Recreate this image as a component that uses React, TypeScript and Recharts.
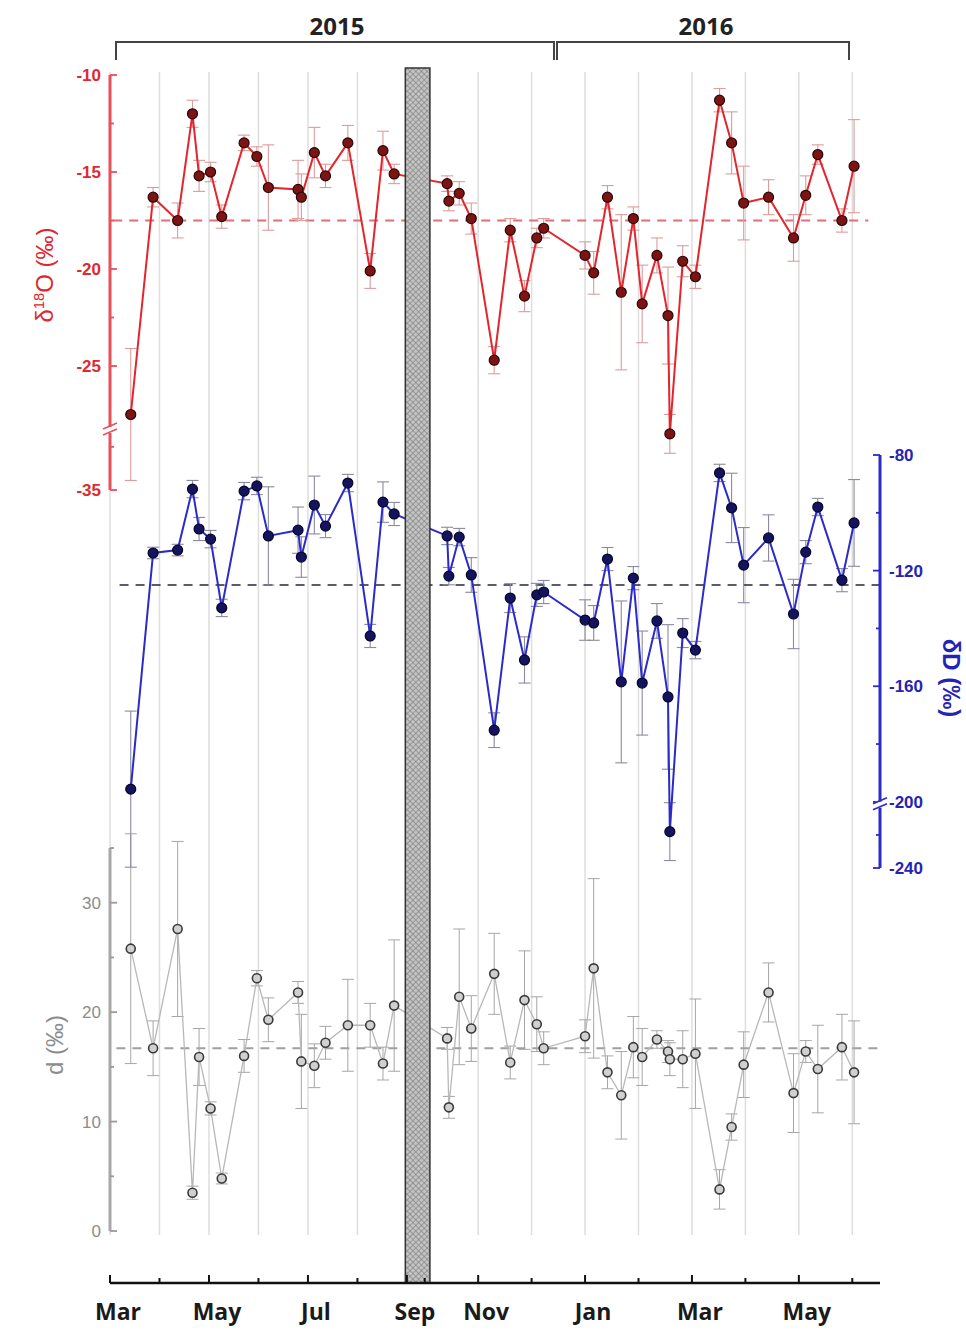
import React from 'react';
import { ComposedChart, Line, XAxis, YAxis, ErrorBar, ReferenceLine, ReferenceArea } from 'recharts';

// sampling dates (event-based precipitation samples)
const sampleDates = [
  '2015-03-14', '2015-03-28', '2015-04-12', '2015-04-21', '2015-04-25', '2015-05-02', '2015-05-09',
  '2015-05-23', '2015-05-31', '2015-06-07', '2015-06-25', '2015-06-27', '2015-07-05', '2015-07-12',
  '2015-07-26', '2015-08-09', '2015-08-17', '2015-08-24', '2015-10-14', '2015-10-15', '2015-10-21',
  '2015-10-28', '2015-11-10', '2015-11-19', '2015-11-27', '2015-12-04', '2015-12-08', '2016-01-01',
  '2016-01-06', '2016-01-14', '2016-01-22', '2016-01-29', '2016-02-03', '2016-02-11', '2016-02-17',
  '2016-02-18', '2016-02-25', '2016-03-03', '2016-03-17', '2016-03-24', '2016-03-31', '2016-04-14',
  '2016-04-28', '2016-05-05', '2016-05-12', '2016-05-26', '2016-06-02',
];

const d18O = [
  -27.5, -16.3, -17.5, -12.0, -15.2, -15.0, -17.3, -13.5, -14.2, -15.8, -15.9, -16.3, -14.0, -15.2,
  -13.5, -20.1, -13.9, -15.1, -15.6, -16.5, -16.1, -17.4, -24.7, -18.0, -21.4, -18.4, -17.9, -19.3,
  -20.2, -16.3, -21.2, -17.4, -21.8, -19.3, -22.4, -28.5, -19.6, -20.4, -11.3, -13.5, -16.6, -16.3,
  -18.4, -16.2, -14.1, -17.5, -14.7,
];
const d18OErr = [
  3.4, 0.5, 0.9, 0.7, 0.8, 0.5, 0.6, 0.4, 0.5, 2.2, 1.5, 1.2, 1.3, 0.6, 0.9, 0.9, 1.0, 0.5, 0.4, 0.5,
  0.6, 0.8, 0.7, 0.6, 0.8, 0.5, 0.5, 0.7, 1.1, 0.6, 4.0, 0.6, 2.0, 0.9, 2.5, 1.0, 0.8, 0.6, 0.6, 1.6,
  1.9, 0.9, 1.2, 1.0, 0.5, 0.6, 2.4,
];

const dD = [
  -195.6, -113.9, -112.9, -91.8, -105.6, -109.1, -132.9, -92.5, -90.7, -108.0, -106.0, -115.3, -97.3,
  -104.6, -89.7, -142.6, -96.3, -100.4, -108.0, -121.9, -108.4, -121.5, -175.2, -129.5, -150.9, -128.4,
  -127.4, -137.1, -138.1, -116.0, -158.5, -122.6, -158.9, -137.4, -163.7, -218.0, -141.6, -147.5, -86.2,
  -98.3, -118.1, -108.7, -135.0, -113.6, -98.0, -123.3, -103.5,
];
const dDErr = [
  27, 2, 2, 3, 4, 3, 3, 3, 3, 17, 8, 7, 10, 4, 3, 4, 7, 4, 3, 3, 3, 6, 6, 5, 8, 4, 4, 7, 6, 4, 28, 4,
  18, 6, 25, 10, 5, 3, 3, 12, 13, 8, 12, 4, 3, 4, 15,
];

const dExcess = [
  25.8, 16.7, 27.6, 3.5, 15.9, 11.2, 4.8, 16.0, 23.1, 19.3, 21.8, 15.5, 15.1, 17.2, 18.8, 18.8, 15.3,
  20.6, 17.6, 11.3, 21.4, 18.5, 23.5, 15.4, 21.1, 18.9, 16.7, 17.8, 24.0, 14.5, 12.4, 16.8, 15.9, 17.5,
  16.4, 15.7, 15.7, 16.2, 3.8, 9.5, 15.2, 21.8, 12.6, 16.4, 14.8, 16.8, 14.5,
];
const dExcessErr = [
  10.5, 2.5, 8.0, 0.6, 2.6, 0.6, 0.5, 1.5, 0.7, 2.0, 1.0, 4.3, 2.0, 1.5, 4.2, 2.0, 1.5, 6.0, 1.0, 1.0,
  6.2, 3.0, 3.7, 1.5, 4.5, 2.5, 1.5, 1.5, 8.2, 1.5, 4.0, 2.8, 2.6, 0.8, 1.0, 1.5, 2.6, 5.0, 1.8, 1.2,
  3.0, 2.7, 3.6, 1.0, 4.0, 3.0, 4.7,
];

const d18OMean = -17.5;
const dDMean = -125;
const dExcessMean = 16.7;

const monthStarts = [
  '2015-03-01', '2015-04-01', '2015-05-01', '2015-06-01', '2015-07-01', '2015-08-01', '2015-09-01',
  '2015-10-01', '2015-11-01', '2015-12-01', '2016-01-01', '2016-02-01', '2016-03-01', '2016-04-01',
  '2016-05-01', '2016-06-01',
];
const monthNames = ['Mar', '', 'May', '', 'Jul', '', 'Sep', '', 'Nov', '', 'Jan', '', 'Mar', '', 'May', ''];

const d18OTicks = [-10, -15, -20, -25, -35];
const d18OMinor = [-12.5, -17.5, -22.5, -30];
const dDTicks = [-80, -120, -160, -200, -240];
const dDMinor = [-100, -140, -180, -220];
const dExcessTicks = [0, 10, 20, 30];
const dExcessMinor = [5, 15, 25, 35];

// ---- layout ----
const W = 966;
const H = 1333;
const LEFT = 110;
const RIGHT = 880;
const X_MAX = 15.56;
const RED = '#e3262d';
const BLUE = '#2b2bc9';
const GREY = '#9a9a9a';

// time axis is broken in Sep 2015 (hatched bar), months after it are a bit wider
const xPos = (s: string) => {
  const [y, m, d] = s.split('-').map(Number);
  const idx = (y - 2015) * 12 + (m - 3);
  const frac = (d - 1) / new Date(y, m, 0).getDate();
  if (idx < 6) return idx + frac;
  if (idx === 6) return 6 + frac * 0.36;
  return 6.36 + (idx - 7 + frac) * 1.08;
};

// y axis breaks
const foldO = (v: number) => (v >= -28.5 ? v : -28.5 + (v + 28.5) * 0.445);
const foldD = (v: number) => (v >= -200 ? v : -200 + (v + 200) * 0.572);

const rows = sampleDates.map((s, i) => ({
  x: xPos(s),
  o18: foldO(d18O[i]),
  o18Err: d18OErr[i],
  dD: foldD(dD[i]),
  dDErr: dDErr[i],
  d: dExcess[i],
  dErr: dExcessErr[i],
}));

type AxisStyle = {
  side: 'left' | 'right';
  color: string;
  tickColor: string;
  majors: { pos: number; label: string }[];
  brk?: number;
  fontSize: number;
  fontWeight: number;
};

const yTick = (st: AxisStyle) => (props: any) => {
  const { x, y, payload } = props;
  const v = payload.value as number;
  const dir = st.side === 'left' ? 1 : -1;
  if (st.brk !== undefined && Math.abs(v - st.brk) < 1e-6) {
    return (
      <g>
        <rect x={x - 5} y={y - 3} width={10} height={6} fill="#fff" />
        <line x1={x - 7} y1={y - 1} x2={x + 7} y2={y - 7} stroke={st.tickColor} strokeWidth={1.6} />
        <line x1={x - 7} y1={y + 5} x2={x + 7} y2={y - 1} stroke={st.tickColor} strokeWidth={1.6} />
      </g>
    );
  }
  const major = st.majors.find((m) => Math.abs(m.pos - v) < 1e-6);
  const len = major ? 7 : 4;
  return (
    <g>
      <line x1={x} y1={y} x2={x + dir * len} y2={y} stroke={st.tickColor} strokeWidth={1.8} />
      {major && (
        <text
          x={x - dir * 9}
          y={y}
          dy="0.35em"
          textAnchor={st.side === 'left' ? 'end' : 'start'}
          fill={st.color}
          fontSize={st.fontSize}
          fontWeight={st.fontWeight}
          fontFamily="'Liberation Sans', Arial, sans-serif"
        >
          {major.label}
        </text>
      )}
    </g>
  );
};

const O_BREAK = -28.3;
const D_BREAK = -201;

const o18Tick = yTick({
  side: 'left', color: '#dd2a30', tickColor: '#e8505a', fontSize: 17, fontWeight: 700, brk: O_BREAK,
  majors: d18OTicks.map((t) => ({ pos: foldO(t), label: String(t) })),
});
const dDTick = yTick({
  side: 'right', color: '#2424b4', tickColor: BLUE, fontSize: 17, fontWeight: 700, brk: D_BREAK,
  majors: dDTicks.map((t) => ({ pos: foldD(t), label: String(t) })),
});
const dTick = yTick({
  side: 'left', color: '#8c8c8c', tickColor: GREY, fontSize: 17, fontWeight: 400,
  majors: dExcessTicks.map((t) => ({ pos: t, label: String(t) })),
});

const xTickPos = monthStarts.map(xPos);
const XTick = (props: any) => {
  const { x, y, payload } = props;
  const i = xTickPos.findIndex((p) => Math.abs(p - payload.value) < 1e-6);
  const name = monthNames[i] || '';
  return (
    <g>
      <line x1={x} y1={y} x2={x} y2={y - (name ? 8 : 5)} stroke="#111" strokeWidth={2} />
      {name && (
        <text x={x + 8} y={y + 37} textAnchor="middle" fontSize={23} fontWeight={700} fill="#1a1a1a"
          fontFamily="'Open Sans', sans-serif">
          {name}
        </text>
      )}
    </g>
  );
};

const layer: React.CSSProperties = { position: 'absolute', left: 0, top: 0 };
const xAxisHidden = <XAxis type="number" dataKey="x" domain={[0, X_MAX]} allowDataOverflow hide />;

const Bracket = ({ left, width, label, cx }: { left: number; width: number; label: string; cx: number }) => (
  <>
    <div style={{
      position: 'absolute', left, top: 41, width, height: 19, boxSizing: 'border-box',
      borderTop: '2px solid #444', borderLeft: '2px solid #444', borderRight: '2px solid #444',
    }} />
    <div style={{
      position: 'absolute', left: cx, top: 25, transform: 'translate(-50%, -50%)',
      fontFamily: "'Open Sans', sans-serif", fontWeight: 700, fontSize: 24, color: '#222',
    }}>{label}</div>
  </>
);

const Title = ({ cx, cy, rot, color, bold, children }: any) => (
  <div style={{
    position: 'absolute', left: cx, top: cy, transform: `translate(-50%, -50%) rotate(${rot}deg)`,
    whiteSpace: 'nowrap', color, fontSize: 24, fontWeight: bold ? 700 : 400,
    fontFamily: "'Liberation Sans', Arial, sans-serif",
  }}>{children}</div>
);

export default function App() {
  return (
    <div style={{ position: 'absolute', left: 0, top: 0, width: W, height: H, background: '#fff' }}>
      {/* month grid */}
      <div style={layer}>
        <ComposedChart width={W} height={H} data={rows} margin={{ top: 72, right: W - RIGHT, bottom: H - 1235, left: LEFT }}>
          {xAxisHidden}
          <YAxis type="number" domain={[0, 1]} allowDataOverflow hide />
          {monthStarts.map((m) => (
            <ReferenceLine key={m} x={xPos(m)} stroke="#dedede" strokeWidth={1.5} />
          ))}
        </ComposedChart>
      </div>

      {/* d-excess */}
      <div style={layer}>
        <ComposedChart width={W} height={H} data={rows} margin={{ top: 848, right: W - RIGHT, bottom: H - 1231, left: LEFT - 40 }}>
          {xAxisHidden}
          <YAxis type="number" domain={[0, 35]} allowDataOverflow width={40} interval={0}
            ticks={[...dExcessTicks, ...dExcessMinor]} tickSize={0} tickMargin={0} tickLine={false}
            axisLine={{ stroke: '#a8a8a8', strokeWidth: 3 }} tick={dTick} />
          <ReferenceLine segment={[{ x: xPos('2015-03-05'), y: dExcessMean }, { x: X_MAX, y: dExcessMean }]}
            stroke="#a0a0a0" strokeDasharray="9 7" strokeWidth={1.8} />
          <Line dataKey="d" type="linear" stroke="#b8b8b8" strokeWidth={1.3} isAnimationActive={false}
            dot={{ r: 4.5, fill: '#d0d0d0', stroke: '#3a3a3a', strokeWidth: 1.6 }} activeDot={false}>
            <ErrorBar dataKey="dErr" width={6} stroke="#a6a6a6" strokeWidth={1} direction="y" />
          </Line>
        </ComposedChart>
      </div>

      {/* deltaD */}
      <div style={layer}>
        <ComposedChart width={W} height={H} data={rows} margin={{ top: 455, right: W - RIGHT - 40, bottom: H - 868, left: LEFT }}>
          {xAxisHidden}
          <YAxis type="number" orientation="right" domain={[foldD(-240), -80]} allowDataOverflow width={40} interval={0}
            ticks={[...dDTicks.map(foldD), ...dDMinor.map(foldD), D_BREAK]} tickSize={0} tickMargin={0} tickLine={false}
            axisLine={{ stroke: BLUE, strokeWidth: 3 }} tick={dDTick} />
          <ReferenceLine segment={[{ x: xPos('2015-03-07'), y: dDMean }, { x: X_MAX, y: dDMean }]}
            stroke="#23234a" strokeDasharray="9 7" strokeWidth={1.6} />
          <Line dataKey="dD" type="linear" stroke={BLUE} strokeWidth={2} isAnimationActive={false}
            dot={{ r: 5, fill: '#14145e', stroke: '#06062a', strokeWidth: 1.2 }} activeDot={false}>
            <ErrorBar dataKey="dDErr" width={6} stroke="#8a8aa2" strokeWidth={1.1} direction="y" />
          </Line>
        </ComposedChart>
      </div>

      {/* delta18O */}
      <div style={layer}>
        <ComposedChart width={W} height={H} data={rows} margin={{ top: 75, right: W - RIGHT, bottom: H - 490, left: LEFT - 40 }}>
          {xAxisHidden}
          <YAxis type="number" domain={[foldO(-35), -10]} allowDataOverflow width={40} interval={0}
            ticks={[...d18OTicks.map(foldO), ...d18OMinor.map(foldO), O_BREAK]} tickSize={0} tickMargin={0} tickLine={false}
            axisLine={{ stroke: '#e8505a', strokeWidth: 3 }} tick={o18Tick} />
          <ReferenceLine segment={[{ x: xPos('2015-03-03'), y: d18OMean }, { x: xPos('2016-06-10'), y: d18OMean }]}
            stroke="#e07078" strokeDasharray="9 7" strokeWidth={1.8} />
          <Line dataKey="o18" type="linear" stroke={RED} strokeWidth={2} isAnimationActive={false}
            dot={{ r: 5, fill: '#7d1414', stroke: '#2b0606', strokeWidth: 1.2 }} activeDot={false}>
            <ErrorBar dataKey="o18Err" width={6} stroke="#dc9c9c" strokeWidth={1.1} direction="y" />
          </Line>
        </ComposedChart>
      </div>

      {/* frame: time axis and data gap */}
      <div style={layer}>
        <ComposedChart width={W} height={H} data={rows} margin={{ top: 68, right: W - RIGHT, bottom: 0, left: LEFT }}>
          <defs>
            <pattern id="hatch" width="4" height="4" patternUnits="userSpaceOnUse" patternTransform="rotate(45)">
              <rect width="4" height="4" fill="#c4c4c4" />
              <line x1="0" y1="0" x2="0" y2="4" stroke="#7a7a7a" strokeWidth="1.2" />
              <line x1="0" y1="0" x2="4" y2="0" stroke="#7a7a7a" strokeWidth="1.2" />
            </pattern>
          </defs>
          <XAxis type="number" dataKey="x" domain={[0, X_MAX]} allowDataOverflow ticks={xTickPos} interval={0}
            height={H - 1283} tickSize={0} tickMargin={0} tickLine={false}
            axisLine={{ stroke: '#111', strokeWidth: 2.5 }} tick={XTick} />
          <YAxis type="number" domain={[0, 1]} allowDataOverflow hide />
          <ReferenceArea x1={xPos('2015-08-31')} x2={xPos('2015-10-04')} fill="url(#hatch)" fillOpacity={1}
            stroke="#333" strokeWidth={1.5} />
        </ComposedChart>
      </div>

      <Bracket left={115} width={440} label="2015" cx={337} />
      <Bracket left={556} width={294} label="2016" cx={706} />

      <Title cx={45} cy={275} rot={-90} color="#e0262c">
        δ<sup style={{ fontSize: '0.62em' }}>18</sup>O (‰)
      </Title>
      <Title cx={951} cy={678} rot={90} color="#2424b4" bold>δD (‰)</Title>
      <Title cx={55} cy={1045} rot={-90} color="#8c8c8c">d (‰)</Title>
    </div>
  );
}
